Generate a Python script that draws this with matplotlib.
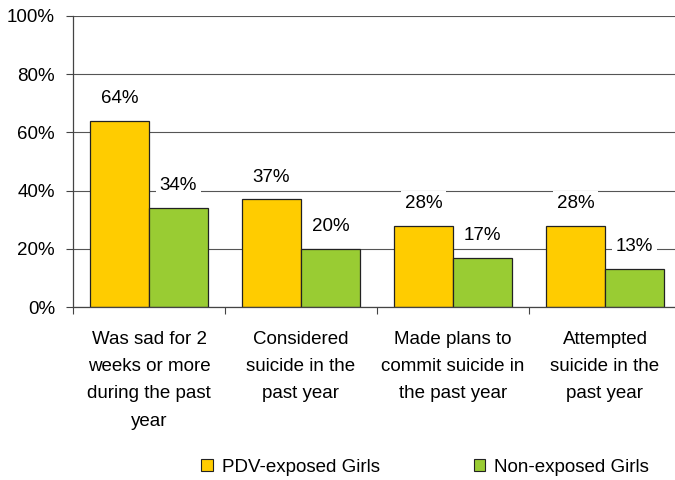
import matplotlib.pyplot as plt
import numpy as np
from matplotlib.patches import Patch

plt.rcParams['font.family'] = ['Liberation Sans', 'DejaVu Sans']

categories = ["Was sad for 2\nweeks or more\nduring the past\nyear",
              "Considered\nsuicide in the\npast year",
              "Made plans to\ncommit suicide in\nthe past year",
              "Attempted\nsuicide in the\npast year"]
exposed = [64, 37, 28, 28]
non_exposed = [34, 20, 17, 13]
series_names = ["PDV-exposed Girls", "Non-exposed Girls"]
colors = ["#FFCC00", "#99CC33"]

fs = 13.5
fig = plt.figure(figsize=(6.75, 4.8), dpi=100)
ax = fig.add_axes([73 / 675, 1 - 307 / 480, 608 / 675, 291 / 480])

x = np.arange(len(categories))
w = 0.388
ax.set_axisbelow(True)
for vals, off, c in [(exposed, -w / 2, colors[0]), (non_exposed, w / 2, colors[1])]:
    ax.bar(x + off, vals, width=w, color=c, edgecolor='#222222', linewidth=0.9, zorder=2)
    for xi, v in zip(x + off, vals):
        ax.annotate(f"{v}%", (xi, v), xytext=(0, 16), textcoords='offset points',
                    ha='center', va='center', fontsize=fs, zorder=3,
                    bbox=dict(facecolor='white', edgecolor='none', pad=3))

ax.set_ylim(0, 100)
ax.set_xlim(-0.5, 3.5)
ax.set_yticks(np.arange(0, 101, 20))
ax.set_yticklabels([f"{t}%" for t in range(0, 101, 20)], fontsize=fs)
ax.yaxis.grid(True, color='#555555', linewidth=0.8)
ax.tick_params(axis='y', length=5, width=0.8, color='#444444', pad=8)

ax.set_xticks(x)
ax.set_xticklabels(categories, fontsize=fs, linespacing=1.8, va='top')
ax.tick_params(axis='x', which='major', length=0, pad=17)
ax.set_xticks(np.arange(-0.5, 4, 1), minor=True)
ax.tick_params(axis='x', which='minor', length=5, width=0.8, color='#444444')

for s in ['top', 'right']:
    ax.spines[s].set_visible(False)
for s in ['left', 'bottom']:
    ax.spines[s].set_color('#444444')
    ax.spines[s].set_linewidth(0.9)

handles = [Patch(facecolor=c, edgecolor='#222222', linewidth=0.8) for c in colors]
fig.legend(handles, series_names, loc='center', bbox_to_anchor=(0.63, 0.027), ncol=2,
           frameon=False, fontsize=fs, handlelength=0.6, handleheight=0.6,
           handletextpad=0.5, columnspacing=5.0)

fig.savefig("out.png", dpi=100)
